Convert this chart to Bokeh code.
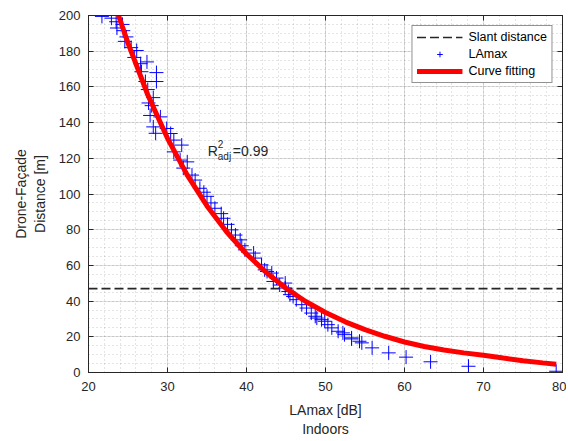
from bokeh.plotting import figure
from bokeh.models import (Range1d, SingleIntervalTicker, LinearAxis, Legend, LegendItem, Label,
                          CustomJSTickFormatter)
from bokeh.embed import file_html
from bokeh.resources import INLINE

# LAmax measurements (indoors)
lamax_db = [21.7, 22.9, 23.5, 24.3, 23.6, 24.4, 24.8, 24.6, 25.4, 26.1,
            25.8, 26.6, 27.4, 26.7, 28.6, 27.2, 28.6, 27.5, 28.2, 27.6,
            28.0, 27.8, 29.1, 28.2, 29.9, 28.5, 30.4, 30.8, 31.8, 30.8,
            31.6, 32.5, 32.0, 33.1, 33.5, 34.1, 34.6, 35.0, 35.5, 36.0,
            36.8, 37.1, 37.6, 38.1, 38.6, 39.2, 39.4, 39.8, 40.9, 41.1,
            41.9, 42.3, 42.6, 43.2, 43.8, 43.4, 44.2, 44.9, 44.9, 45.3,
            45.5, 45.9, 46.3, 47.0, 47.6, 48.2, 48.7, 48.9, 49.5, 49.9,
            50.3, 50.8, 51.6, 52.2, 52.4, 53.3, 53.3, 54.3, 54.6, 55.9,
            58.0, 60.2, 63.3, 68.1, 79.2]
distance_m = [199.5, 198.5, 196.5, 195.0, 193.0, 191.5, 188.0, 185.5, 182.0, 180.4,
              176.5, 173.0, 174.0, 168.5, 168.0, 163.0, 163.0, 158.5, 154.0, 151.0,
              149.5, 144.0, 143.2, 137.6, 136.7, 134.0, 133.9, 130.2, 127.4, 123.6,
              119.0, 118.0, 114.5, 110.6, 107.8, 103.2, 101.0, 98.7, 95.0, 92.0,
              89.0, 86.4, 83.0, 79.9, 77.0, 74.3, 71.0, 68.7, 66.9, 64.1,
              60.3, 57.5, 56.6, 55.7, 52.9, 51.0, 49.0, 50.1, 47.3, 45.4,
              43.6, 42.6, 40.8, 38.0, 36.1, 33.3, 31.5, 30.5, 29.6, 28.7,
              26.8, 25.0, 23.1, 22.2, 21.2, 19.4, 18.8, 17.5, 16.6, 13.8,
              11.0, 8.6, 6.0, 3.5, 0.7]

# Fitted curve
fit_db = [23.8, 25.0, 27.5, 30.0, 32.5, 35.0, 37.5, 40.0, 42.5, 45.0, 47.5, 50.0,
          52.5, 55.0, 57.5, 60.0, 62.5, 65.0, 67.5, 70.0, 72.5, 75.0, 77.5, 79.2]
fit_m = [200.0, 184.5, 155.6, 131.2, 110.6, 93.3, 78.7, 66.4, 56.0, 47.2, 39.8, 33.6,
         28.4, 24.0, 20.3, 17.1, 14.6, 12.6, 11.0, 9.7, 8.1, 6.6, 5.4, 4.6]

# Slant distance
slant_x = [20, 80]
slant_y = [47, 47]

annot_text = ["R", "2", "adj", "=0.99"]

FONT = "Liberation Sans"
TXT = "#262626"

p = figure(width=566, height=439, output_backend="svg", toolbar_location=None,
           x_range=Range1d(20, 80), y_range=Range1d(0, 200),
           min_border_left=88, min_border_right=3, min_border_top=15, min_border_bottom=66,
           background_fill_color="white", border_fill_color="white")

p.outline_line_color = TXT
p.outline_line_width = 1

xt = SingleIntervalTicker(interval=10, num_minor_ticks=5)
yt = SingleIntervalTicker(interval=20, num_minor_ticks=4)
p.xaxis.ticker = xt
p.yaxis.ticker = yt

for ax in (p.xaxis[0], p.yaxis[0]):
    ax.major_tick_in = 5
    ax.major_tick_out = 0
    ax.minor_tick_line_color = None
    ax.axis_line_color = TXT
    ax.major_tick_line_color = TXT
    ax.major_label_text_font = FONT
    ax.major_label_text_font_size = "13px"
    ax.major_label_text_color = TXT
    ax.axis_label_text_font = FONT
    ax.axis_label_text_font_size = "14px"
    ax.axis_label_text_font_style = "normal"
    ax.axis_label_text_color = TXT

p.xaxis.axis_label = "LAmax [dB]\nIndoors"
p.yaxis.axis_label = "Drone-Façade\nDistance [m]"
p.xaxis.major_label_standoff = 5
p.yaxis.major_label_standoff = 4
p.xaxis.axis_label_standoff = 8
p.yaxis.axis_label_standoff = 8

# box ticks on top and right
for loc, tk in (("right", yt), ("above", xt)):
    a = LinearAxis(ticker=tk, major_tick_in=5, major_tick_out=0,
                   minor_tick_line_color=None,
                   formatter=CustomJSTickFormatter(code="return ''"),
                   major_label_standoff=0, axis_line_color=TXT, major_tick_line_color=TXT)
    p.add_layout(a, loc)

for g in (p.xgrid[0], p.ygrid[0]):
    g.grid_line_color = "#262626"
    g.grid_line_alpha = 0.15
    g.minor_grid_line_color = "#262626"
    g.minor_grid_line_alpha = 0.25
    g.minor_grid_line_dash = "1 3"

r_slant = p.line(slant_x, slant_y, line_color="#262626", line_width=1.6, line_dash="9 4")
r_pts = p.scatter(lamax_db, distance_m, marker="cross", size=14, line_color="#0000ff",
                  line_width=1)
r_fit = p.line(fit_db, fit_m, line_color="#ff0000", line_width=5)

legend = Legend(items=[LegendItem(label="Slant distance", renderers=[r_slant]),
                       LegendItem(label="LAmax", renderers=[r_pts]),
                       LegendItem(label="Curve fitting", renderers=[r_fit])],
                location="top_right")
legend.label_text_font = FONT
legend.label_text_font_size = "12.5px"
legend.label_text_color = "black"
legend.border_line_color = TXT
legend.border_line_width = 1
legend.background_fill_color = "white"
legend.background_fill_alpha = 1
legend.glyph_width = 46
legend.glyph_height = 14
legend.label_height = 14
legend.spacing = 3
legend.padding = 4
legend.margin = 10
legend.label_standoff = 6
p.add_layout(legend)

ax0, ay0 = 35.1, 124.0
for txt, dx, dy, fs in ((annot_text[0], 0, 0, "14px"), (annot_text[1], 10, 7, "10px"),
                        (annot_text[2], 10, -5, "10px"), (annot_text[3], 25, 0, "14px")):
    p.add_layout(Label(x=ax0, y=ay0, text=txt, x_offset=dx, y_offset=dy,
                       text_font=FONT, text_font_size=fs, text_color=TXT,
                       text_baseline="alphabetic", text_align="left"))

open("out.html", "w").write(file_html(p, INLINE))
